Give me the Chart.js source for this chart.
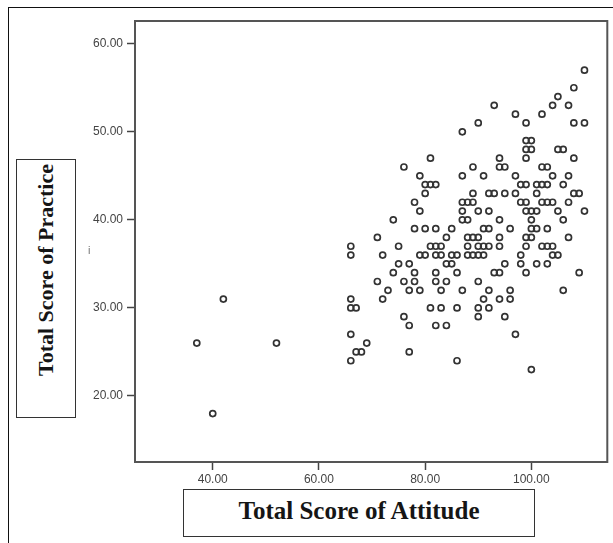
<!DOCTYPE html>
<html lang="en">
<head>
    <meta charset="UTF-8">
    <title>Total Score of Attitude vs Practice</title>
    <script src="https://cdn.jsdelivr.net/npm/chart.js"></script>
    <style>
        body {
            margin: 0;
            padding: 0;
            background-color: #fff;
        }

        .wrap {
            position: relative;
            width: 613px;
            height: 543px;
            overflow: hidden;
        }

        .outer {
            position: absolute;
            left: 8px;
            top: 7px;
            width: 700px;
            height: 700px;
            border-left: 1px solid #111;
            border-top: 1px solid #111;
        }

        #myChart {
            position: absolute;
            left: 0;
            top: 0;
        }

        .titleBox {
            position: absolute;
            box-sizing: border-box;
            border: 1.5px solid #333;
            background-color: #fff;
            font-family: "Liberation Serif", "Times New Roman", serif;
            font-weight: bold;
            color: #151515;
        }

        #xTitle {
            left: 183px;
            top: 489px;
            width: 352px;
            height: 48px;
            font-size: 25px;
            text-align: center;
            line-height: 42px;
        }

        #yTitle {
            left: 16px;
            top: 159px;
            width: 60px;
            height: 259px;
        }

        #yTitle span {
            position: absolute;
            left: 29px;
            top: 110px;
            font-size: 22px;
            white-space: nowrap;
            transform: translate(-50%, -50%) rotate(-90deg);
        }

        .stray {
            position: absolute;
            left: 88px;
            top: 244px;
            font-family: "Liberation Sans", Arial, sans-serif;
            font-size: 11px;
            color: #777;
        }
    </style>
</head>
<body>
    <div class="wrap">
        <div class="outer"></div>
        <canvas id="myChart" width="613" height="543"></canvas>
        <div class="titleBox" id="yTitle"><span>Total Score of Practice</span></div>
        <div class="titleBox" id="xTitle">Total Score of Attitude</div>
        <div class="stray">i</div>
    </div>

    <script>
        // attitude score (x) and practice score (y), one entry per respondent
        const attitude = [
            37, 40, 42, 52,
            66, 72, 79, 80, 82, 83,
            84, 75, 77,
            74, 78, 82,
            71, 76, 78, 82, 84,
            73, 77, 79, 83,
            66, 72,
            66, 67, 81, 83,
            76,
            77, 82, 84,
            66,
            69,
            67, 68, 77,
            66,
            81, 76, 79, 80, 81, 82, 80, 78, 79, 74, 78, 80, 82, 85, 84, 71, 66, 75, 81, 82, 83,
            110, 108, 105, 104, 107, 93, 97, 102, 90, 99, 108, 110, 87, 99, 100, 99, 100, 105, 106,
            99, 94, 108, 89, 94, 95, 102, 103, 87, 91, 97, 104, 107,
            98, 99, 101, 102, 103, 106, 89, 92, 93, 95, 97, 101, 108, 109,
            87, 88, 89, 98, 99, 102, 103, 104, 107,
            87, 90, 92, 99, 100, 101, 105, 110,
            87, 88, 94, 100, 106,
            91, 92, 96, 100, 101, 103,
            88, 89, 90, 94, 99, 100, 107,
            88, 90, 91, 92, 94, 99, 102, 103, 104,
            85, 86, 88, 89, 90, 91, 98, 104, 105,
            85, 95, 98, 101, 103,
            86, 93, 94, 99, 109,
            90,
            87, 92, 96, 106,
            91, 94, 96,
            86, 90, 92,
            90, 95,
            97,
            86,
            100
        ];
        const practice = [
            26, 18, 31, 26,
            36, 36, 36, 36, 36, 36,
            35, 35, 35,
            34, 34, 34,
            33, 33, 33, 33, 33,
            32, 32, 32, 32,
            31, 31,
            30, 30, 30, 30,
            29,
            28, 28, 28,
            27,
            26,
            25, 25, 25,
            24,
            47, 46, 45, 44, 44, 44, 43, 42, 41, 40, 39, 39, 39, 39, 38, 38, 37, 37, 37, 37, 37,
            57, 55, 54, 53, 53, 53, 52, 52, 51, 51, 51, 51, 50, 49, 49, 48, 48, 48, 48,
            47, 47, 47, 46, 46, 46, 46, 46, 45, 45, 45, 45, 45,
            44, 44, 44, 44, 44, 44, 43, 43, 43, 43, 43, 43, 43, 43,
            42, 42, 42, 42, 42, 42, 42, 42, 42,
            41, 41, 41, 41, 41, 41, 41, 41,
            40, 40, 40, 40, 40,
            39, 39, 39, 39, 39, 39,
            38, 38, 38, 38, 38, 38, 38,
            37, 37, 37, 37, 37, 37, 37, 37, 37,
            36, 36, 36, 36, 36, 36, 36, 36, 36,
            35, 35, 35, 35, 35,
            34, 34, 34, 34, 34,
            33,
            32, 32, 32, 32,
            31, 31, 31,
            30, 30, 30,
            29, 29,
            27,
            24,
            23
        ];
        const xTicks = [40, 60, 80, 100];
        const yTicks = [20, 30, 40, 50, 60];

        const points = attitude.map((a, i) => ({ x: a, y: practice[i] }));

        // plot frame drawn round the whole chart area
        const framePlugin = {
            id: 'frame',
            afterDraw(chart) {
                const a = chart.chartArea;
                const c = chart.ctx;
                c.save();
                c.strokeStyle = '#555';
                c.lineWidth = 2;
                c.strokeRect(a.left, a.top, a.right - a.left, a.bottom - a.top);
                c.restore();
            }
        };

        const tickFont = { family: '"Liberation Sans", Arial, sans-serif', size: 12 };

        var ctx = document.getElementById('myChart').getContext('2d');
        var myChart = new Chart(ctx, {
            type: 'scatter',
            data: {
                datasets: [{
                    data: points,
                    pointStyle: 'circle',
                    pointRadius: 3,
                    borderWidth: 1.7,
                    borderColor: '#333',
                    backgroundColor: 'rgba(0,0,0,0)'
                }]
            },
            options: {
                responsive: false,
                animation: false,
                layout: {
                    padding: { top: 21, right: 2, left: 0, bottom: 0 }
                },
                plugins: {
                    legend: { display: false },
                    tooltip: { enabled: false }
                },
                scales: {
                    x: {
                        type: 'linear',
                        min: 25.36,
                        max: 114.3,
                        afterBuildTicks: s => { s.ticks = xTicks.map(v => ({ value: v })); },
                        afterFit: s => { s.height = 81; },
                        border: { display: false },
                        grid: {
                            drawOnChartArea: false,
                            tickLength: 8,
                            tickColor: '#444',
                            tickWidth: 1.5
                        },
                        ticks: {
                            color: '#444',
                            font: tickFont,
                            padding: 2,
                            maxRotation: 0,
                            callback: v => v.toFixed(2)
                        }
                    },
                    y: {
                        type: 'linear',
                        min: 12.5,
                        max: 62.58,
                        afterBuildTicks: s => { s.ticks = yTicks.map(v => ({ value: v })); },
                        afterFit: s => { s.width = 135; },
                        border: { display: false },
                        grid: {
                            drawOnChartArea: false,
                            tickLength: 8,
                            tickColor: '#444',
                            tickWidth: 1.5
                        },
                        ticks: {
                            color: '#444',
                            font: tickFont,
                            padding: 4,
                            callback: v => v.toFixed(2)
                        }
                    }
                }
            },
            plugins: [framePlugin]
        });
    </script>
</body>
</html>
